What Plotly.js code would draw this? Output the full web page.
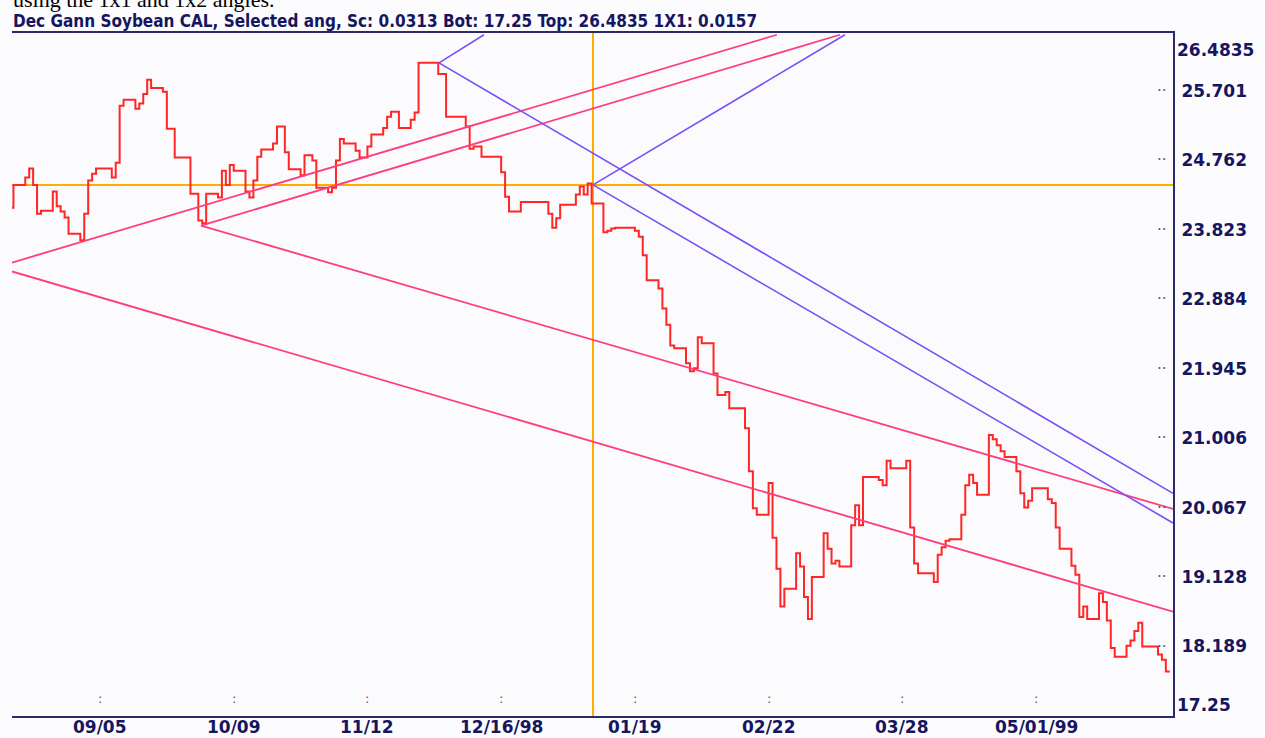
<!DOCTYPE html>
<html>
<head>
<meta charset="utf-8">
<script src="https://cdn.plot.ly/plotly-3.0.1.min.js"></script>
<style>
html,body{margin:0;padding:0;background:#fcfcfe;}
#chart{width:1265px;height:738px;}
</style>
</head>
<body>
<div id="chart"></div>
<script>
// ---------- DATA ----------
const priceDates = [
'1998-08-13','1998-08-14','1998-08-17','1998-08-18','1998-08-19','1998-08-20','1998-08-21',
'1998-08-24','1998-08-25','1998-08-26','1998-08-27','1998-08-28','1998-08-31',
'1998-09-01','1998-09-02','1998-09-03','1998-09-04','1998-09-08','1998-09-09','1998-09-10','1998-09-11',
'1998-09-14','1998-09-15','1998-09-16','1998-09-17','1998-09-18','1998-09-21','1998-09-22','1998-09-23','1998-09-24',
'1998-09-28','1998-09-30','1998-10-01','1998-10-02','1998-10-05','1998-10-06','1998-10-07','1998-10-08','1998-10-09',
'1998-10-12','1998-10-13','1998-10-14','1998-10-15','1998-10-16','1998-10-19','1998-10-20','1998-10-22','1998-10-23',
'1998-10-26','1998-10-27','1998-10-29','1998-10-30','1998-11-02','1998-11-03','1998-11-04','1998-11-05','1998-11-06',
'1998-11-09','1998-11-10','1998-11-12','1998-11-13','1998-11-16','1998-11-17','1998-11-18','1998-11-20',
'1998-11-23','1998-11-24','1998-11-25','1998-11-30','1998-12-02','1998-12-07','1998-12-08','1998-12-09','1998-12-11',
'1998-12-16','1998-12-17','1998-12-18','1998-12-21','1998-12-28','1998-12-29','1998-12-30','1998-12-31',
'1999-01-04','1999-01-05','1999-01-06','1999-01-07','1999-01-08','1999-01-11','1999-01-12','1999-01-13','1999-01-14',
'1999-01-19','1999-01-20','1999-01-21','1999-01-22','1999-01-25','1999-01-26','1999-01-27','1999-01-28','1999-01-29',
'1999-02-01','1999-02-02','1999-02-03','1999-02-04','1999-02-05','1999-02-08','1999-02-09','1999-02-11','1999-02-12',
'1999-02-16','1999-02-17','1999-02-18','1999-02-19','1999-02-22','1999-02-23','1999-02-24','1999-02-25','1999-02-26',
'1999-03-01','1999-03-02','1999-03-03','1999-03-04','1999-03-05','1999-03-08','1999-03-09','1999-03-10','1999-03-11','1999-03-12',
'1999-03-15','1999-03-16','1999-03-17','1999-03-18','1999-03-22','1999-03-23','1999-03-24','1999-03-25',
'1999-03-29','1999-03-30','1999-03-31','1999-04-01','1999-04-05','1999-04-06','1999-04-07','1999-04-08','1999-04-09',
'1999-04-12','1999-04-13','1999-04-14','1999-04-15','1999-04-16','1999-04-19','1999-04-20','1999-04-21','1999-04-22','1999-04-23',
'1999-04-26','1999-04-27','1999-04-28','1999-04-29','1999-04-30','1999-05-04','1999-05-05','1999-05-06','1999-05-07',
'1999-05-10','1999-05-11','1999-05-12','1999-05-13','1999-05-14','1999-05-17','1999-05-18','1999-05-19','1999-05-20','1999-05-21',
'1999-05-24','1999-05-25','1999-05-26','1999-05-27','1999-05-28','1999-06-01','1999-06-02','1999-06-03','1999-06-04'
];
const priceValues = [
24.12,24.43,24.53,24.65,24.43,24.04,24.08,
24.34,24.14,24.07,23.99,23.77,23.68,
24.04,24.49,24.58,24.65,24.53,24.73,25.50,25.58,
25.46,25.53,25.66,25.85,25.74,25.69,25.19,25.19,24.80,
24.31,23.95,23.91,24.31,24.26,24.62,24.43,24.70,24.62,
24.34,24.26,24.49,24.81,24.91,24.99,25.22,24.87,24.64,
24.56,24.83,24.76,24.39,24.33,24.39,24.76,25.05,24.99,
24.89,24.80,24.95,25.11,25.20,25.35,25.42,25.20,
25.31,25.41,26.08,25.93,25.35,25.22,24.92,24.95,24.81,
24.60,24.27,24.07,24.20,24.04,23.85,23.98,24.16,
24.30,24.41,24.30,24.45,24.18,23.79,23.81,23.84,23.85,
23.81,23.73,23.48,23.14,23.03,22.76,22.54,22.26,22.22,
22.02,21.91,21.95,22.37,22.29,21.88,21.59,21.63,21.41,
21.14,20.56,20.06,19.97,20.40,19.66,19.24,18.73,18.97,
19.45,19.27,18.86,18.56,19.13,19.72,19.51,19.31,19.35,19.27,
19.83,20.10,19.83,20.48,20.44,20.37,20.70,20.60,
20.70,19.80,19.31,19.18,19.06,19.43,19.53,19.62,19.64,
19.97,20.37,20.51,20.40,20.24,21.05,20.99,20.91,20.83,20.75,
20.56,20.26,20.07,20.16,20.33,20.18,20.13,19.80,19.51,
19.28,19.16,18.59,18.73,18.56,18.91,18.79,18.54,18.17,18.05,
18.20,18.27,18.40,18.51,18.19,18.08,18.01,17.85,17.85
];

// Gann angle lines (start / end points in date & price)
const pinkStartDates  = ['1998-08-13 15:07','1998-09-30 16:19','1998-09-30 16:19','1998-08-13 15:07'];
const pinkStartPrices = [23.38, 23.88, 23.88, 23.26];
const pinkEndDates    = ['1999-02-24 02:24','1999-03-12 03:36','1999-06-04 19:40','1999-06-04 19:40'];
const pinkEndPrices   = [26.46, 26.46, 20.05, 18.66];

const blueStartDates  = ['1998-11-30 04:34','1998-11-30 04:34','1999-01-08 08:24','1999-01-08 08:24'];
const blueStartPrices = [26.08, 26.08, 24.43, 24.43];
const blueEndDates    = ['1998-12-11 15:20','1999-06-04 19:40','1999-06-04 19:40','1999-03-13 10:05'];
const blueEndPrices   = [26.46, 20.26, 19.86, 26.46];

// Selected pivot (orange cross-hair)
const pivotDate  = '1999-01-08 08:24';
const pivotPrice = 24.43;

// Axes
const xRange = ['1998-08-13 15:07','1999-06-04 19:40'];
const yBottom = 17.25;
const yTop = 26.4835;
const xTickVals = ['1998-09-05','1998-10-09','1998-11-12','1998-12-16','1999-01-19','1999-02-22','1999-03-28','1999-05-01'];
const xTickText = ['09/05','10/09','11/12','12/16/98','01/19','02/22','03/28','05/01/99'];
const yTickVals = [25.701,24.762,23.823,22.884,21.945,21.006,20.067,19.128,18.189];
const yTickText = ['25.701','24.762','23.823','22.884','21.945','21.006','20.067','19.128','18.189'];

const titleText = 'Dec Gann Soybean CAL, Selected ang, Sc: 0.0313 Bot: 17.25 Top: 26.4835 1X1: 0.0157';
const captionText = 'using the 1x1 and 1x2 angles.';

// ---------- STYLE ----------
const NAVY = '#161660';
const FONT_C = '"DejaVu Sans Condensed", "Liberation Sans Narrow", "DejaVu Sans", sans-serif';
const FONT_N = '"DejaVu Sans", "Liberation Sans", sans-serif';
const RED = '#ff2626';
const PINK = '#ff3c7c';
const BLUE = '#7a50f6';
const ORANGE = '#ffae00';

const traces = [];
traces.push({x: xRange, y: [pivotPrice, pivotPrice], mode: 'lines', line: {color: ORANGE, width: 2}, hoverinfo: 'skip'});
traces.push({x: [pivotDate, pivotDate], y: [yBottom, yTop], mode: 'lines', line: {color: ORANGE, width: 2}, hoverinfo: 'skip'});
traces.push({x: priceDates, y: priceValues, mode: 'lines', line: {color: RED, width: 2, shape: 'hv'}, hoverinfo: 'skip'});
pinkStartDates.forEach((d, i) => {
  traces.push({x: [d, pinkEndDates[i]], y: [pinkStartPrices[i], pinkEndPrices[i]], mode: 'lines',
    line: {color: PINK, width: 1.8}, hoverinfo: 'skip'});
});
blueStartDates.forEach((d, i) => {
  traces.push({x: [d, blueEndDates[i]], y: [blueStartPrices[i], blueEndPrices[i]], mode: 'lines',
    line: {color: BLUE, width: 1.6}, hoverinfo: 'skip'});
});

const annotations = [];
annotations.push({text: captionText, xref: 'paper', yref: 'paper', x: 0, y: 1, xanchor: 'left', yanchor: 'bottom',
  yshift: 19, xshift: -1, showarrow: false, font: {family: '"Liberation Serif", "Times New Roman", serif', size: 22, color: '#000'}});
annotations.push({text: titleText, xref: 'paper', yref: 'paper', x: 0, y: 1, xanchor: 'left', yanchor: 'bottom',
  yshift: 0, xshift: -1, showarrow: false, font: {family: FONT_C, size: 17, color: NAVY, weight: 'bold'}});
annotations.push({text: '26.4835', xref: 'paper', yref: 'y', x: 1, y: yTop, xanchor: 'left', yanchor: 'top',
  xshift: 2, yshift: -5, showarrow: false, font: {family: FONT_N, size: 17, color: NAVY, weight: 'bold'}});
annotations.push({text: '17.25', xref: 'paper', yref: 'y', x: 1, y: yBottom, xanchor: 'left', yanchor: 'bottom',
  xshift: 2, yshift: -1, showarrow: false, font: {family: FONT_N, size: 17, color: NAVY, weight: 'bold'}});
// x tick labels
xTickVals.forEach((v, i) => annotations.push({text: xTickText[i], xref: 'x', yref: 'paper', x: v, y: 0, xanchor: 'center', yanchor: 'top',
  yshift: 1, showarrow: false, font: {family: FONT_N, size: 17, color: NAVY, weight: 'bold'}}));
// dotted tick marks
yTickVals.forEach(v => annotations.push({text: '··', xref: 'paper', yref: 'y', x: 1, y: v, xanchor: 'right', yanchor: 'middle',
  xshift: -4, showarrow: false, font: {family: FONT_N, size: 15, color: '#555577'}}));
xTickVals.forEach(v => annotations.push({text: ':', xref: 'x', yref: 'paper', x: v, y: 0, xanchor: 'center', yanchor: 'bottom',
  yshift: 8, showarrow: false, font: {family: FONT_N, size: 13, color: '#555577'}}));

const layout = {
  width: 1265, height: 738,
  margin: {l: 12, r: 92, t: 33, b: 22, pad: 0},
  paper_bgcolor: '#fcfcfe', plot_bgcolor: '#fbfbfd',
  showlegend: false, hovermode: false,
  xaxis: {type: 'date', range: xRange, tickvals: xTickVals, showticklabels: false, ticks: '', showgrid: false, zeroline: false,
    showline: true, linecolor: '#2a2a6a', linewidth: 2, mirror: true},
  yaxis: {range: [yBottom, yTop], side: 'right', tickvals: yTickVals, ticktext: yTickText, ticks: '', showgrid: false, zeroline: false,
    showline: true, linecolor: '#2a2a6a', linewidth: 2, ticklabelstandoff: 3,
    tickfont: {family: FONT_N, size: 17, color: NAVY, weight: 'bold'}},
  annotations: annotations
};

Plotly.newPlot('chart', traces, layout, {displayModeBar: false, staticPlot: true});
</script>
</body>
</html>
